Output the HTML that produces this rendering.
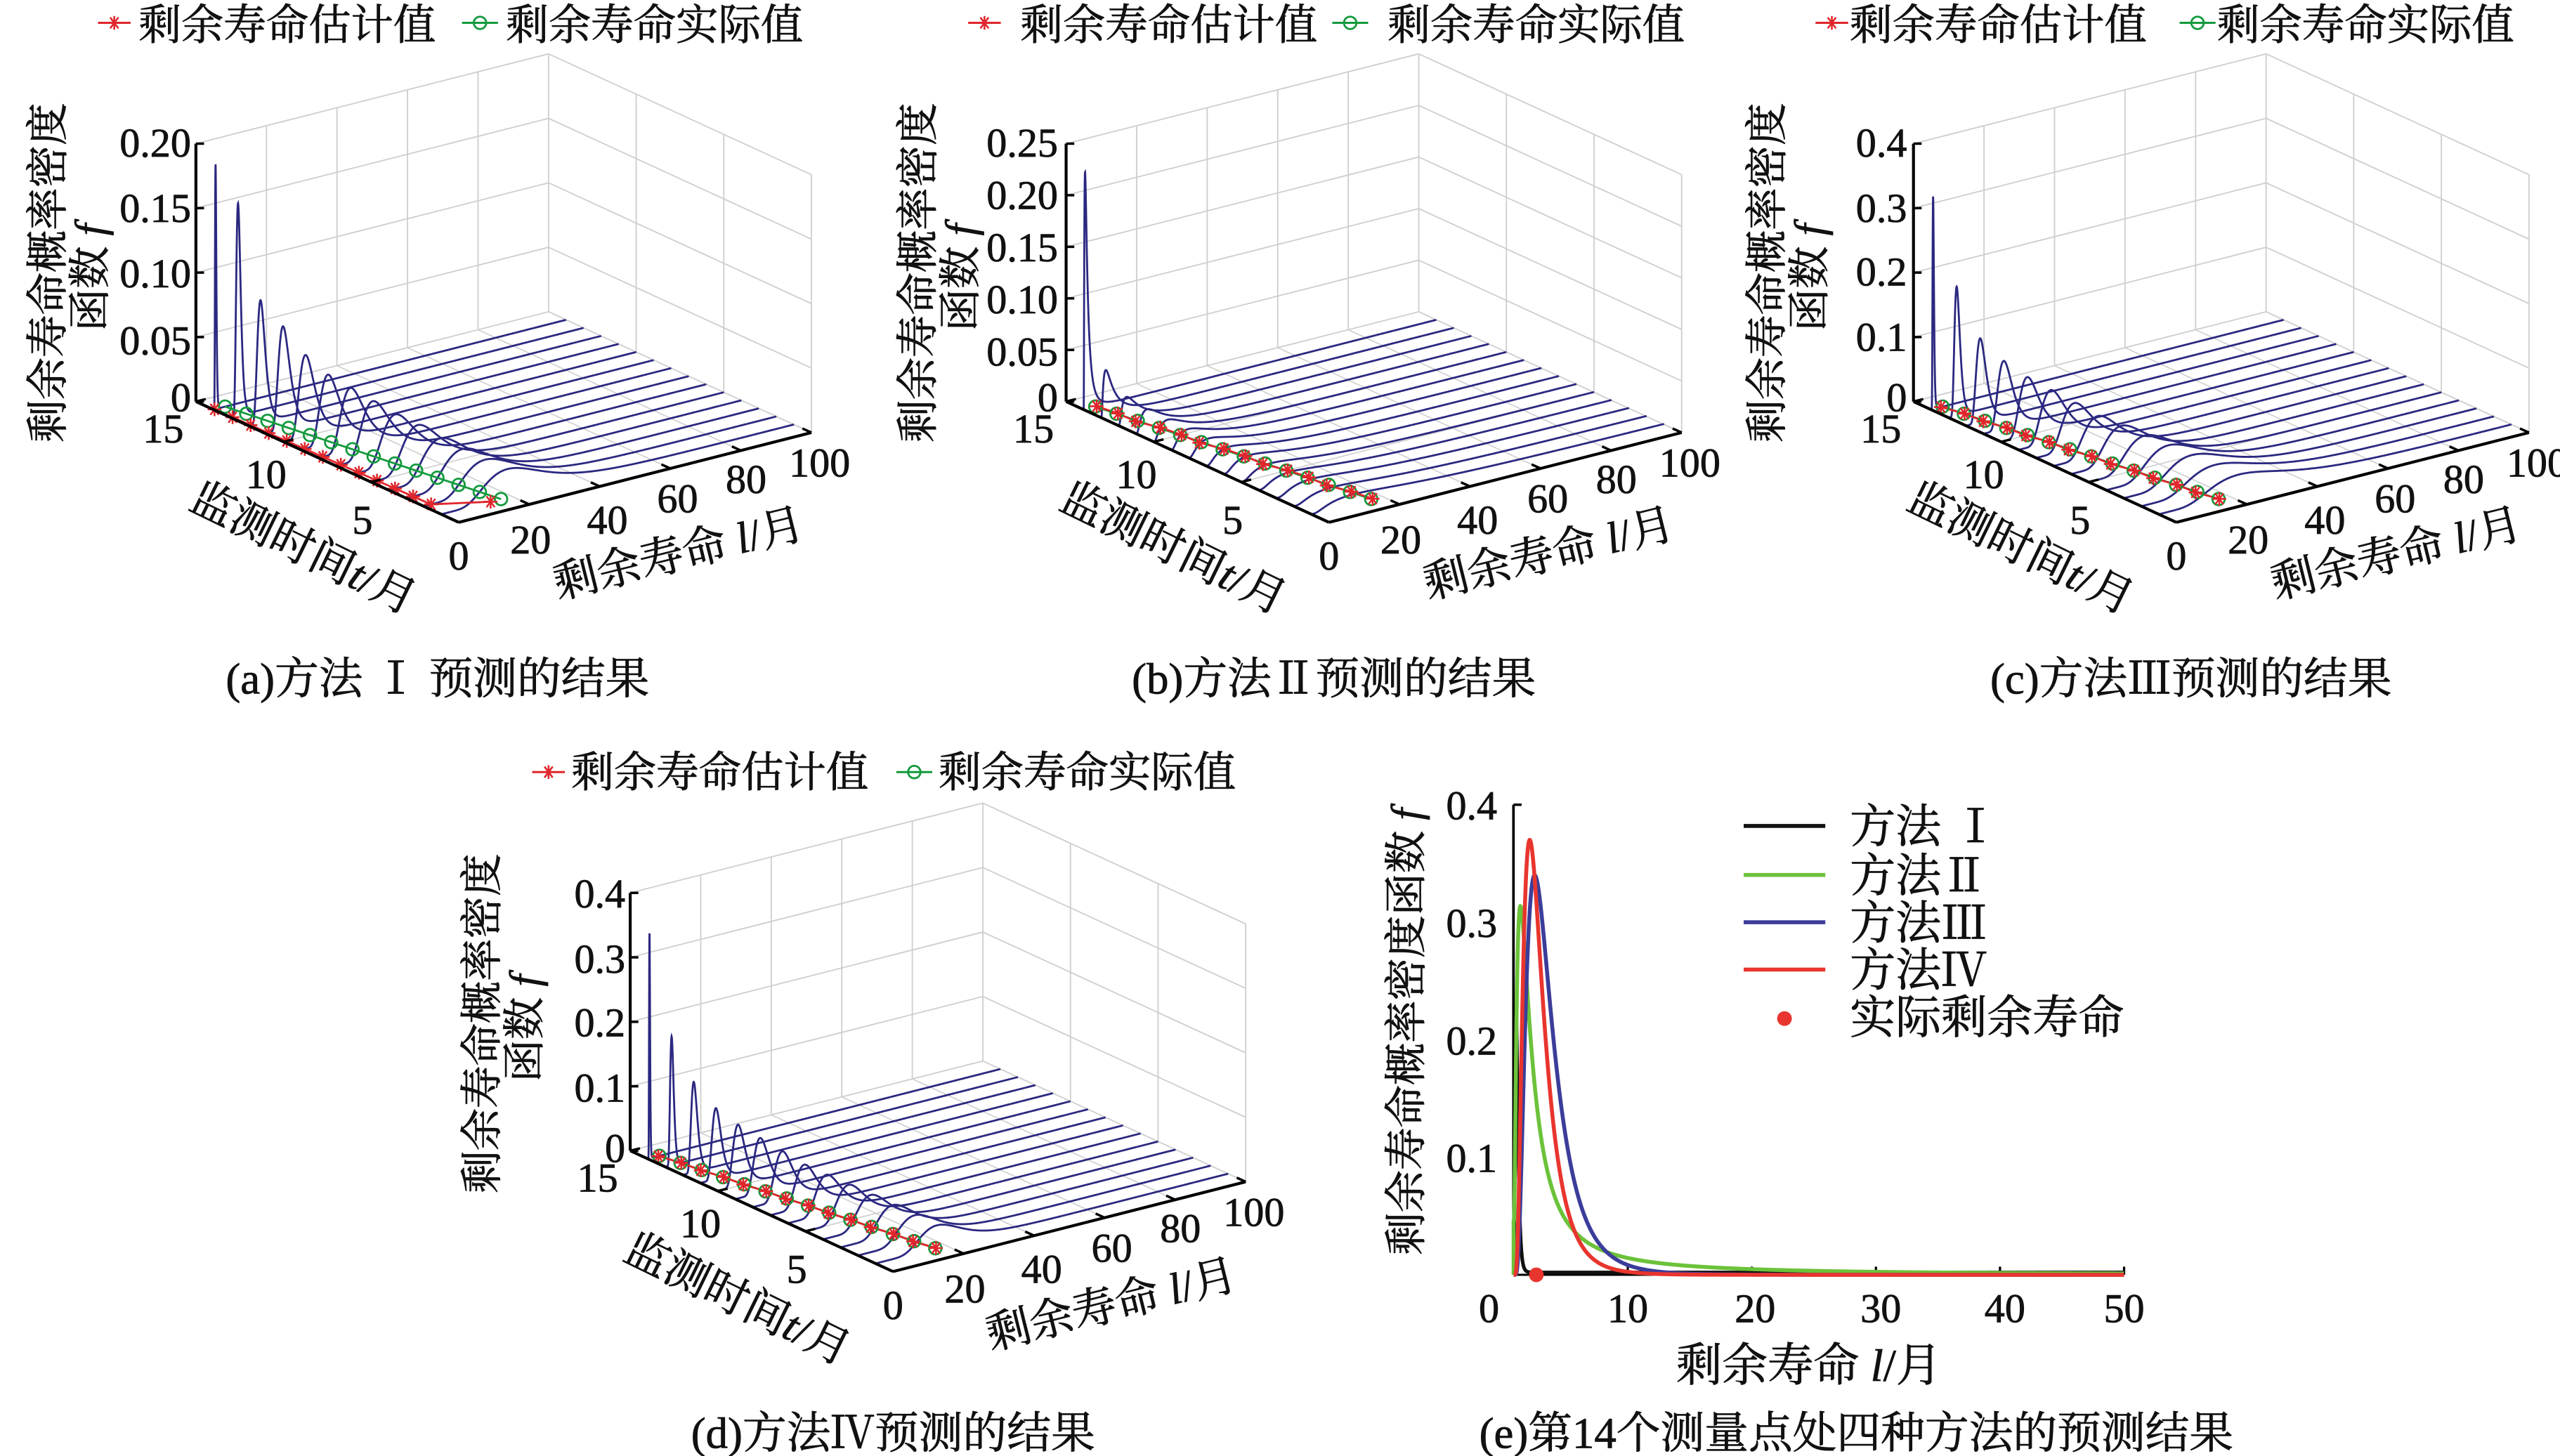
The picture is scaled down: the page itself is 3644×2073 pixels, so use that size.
<!DOCTYPE html>
<html><head><meta charset="utf-8">
<style>
html,body{margin:0;padding:0;background:#fff;}
svg{display:block;}
text{font-family:"Liberation Serif","Noto Serif CJK SC",serif;fill:#111;stroke:#111;stroke-width:0.35;}
.cj{font-family:"Liberation Serif","Noto Serif CJK SC",serif;}
</style></head>
<body>
<svg id="s" xmlns="http://www.w3.org/2000/svg" width="3644" height="2073" viewBox="0 0 1568 892">
<rect width="1568" height="892" fill="#fff"/>
<g id="g"></g>
<g font-size="25">
 <text x="117" y="96" text-anchor="end">0.20</text>
 <text x="117" y="136" text-anchor="end">0.15</text>
 <text x="117" y="176" text-anchor="end">0.10</text>
 <text x="117" y="217" text-anchor="end">0.05</text>
 <text x="117" y="252" text-anchor="end">0</text>
 <text x="648" y="96" text-anchor="end">0.25</text>
 <text x="648" y="128" text-anchor="end">0.20</text>
 <text x="648" y="160" text-anchor="end">0.15</text>
 <text x="648" y="192" text-anchor="end">0.10</text>
 <text x="648" y="224" text-anchor="end">0.05</text>
 <text x="648" y="252" text-anchor="end">0</text>
 <text x="1168" y="96" text-anchor="end">0.4</text>
 <text x="1168" y="136" text-anchor="end">0.3</text>
 <text x="1168" y="175" text-anchor="end">0.2</text>
 <text x="1168" y="215" text-anchor="end">0.1</text>
 <text x="1168" y="252" text-anchor="end">0</text>
 <text x="383" y="556" text-anchor="end">0.4</text>
 <text x="383" y="596" text-anchor="end">0.3</text>
 <text x="383" y="635" text-anchor="end">0.2</text>
 <text x="383" y="675" text-anchor="end">0.1</text>
 <text x="383" y="712" text-anchor="end">0</text>
</g>
<g id="tl" font-size="25" text-anchor="middle"></g>
<g font-size="26" class="cj">
 <text x="85" y="24">剩余寿命估计值</text><text x="310" y="24">剩余寿命实际值</text>
 <text x="625" y="24">剩余寿命估计值</text><text x="850" y="24">剩余寿命实际值</text>
 <text x="1133" y="24">剩余寿命估计值</text><text x="1358" y="24">剩余寿命实际值</text>
 <text x="350" y="482">剩余寿命估计值</text><text x="575" y="482">剩余寿命实际值</text>
</g>
<g font-size="26" class="cj" text-anchor="middle">
 <text transform="translate(38,167) rotate(-90)">剩余寿命概率密度</text>
 <text transform="translate(64,170) rotate(-90)">函数 <tspan font-style="italic">f</tspan></text>
 <text transform="translate(571,167) rotate(-90)">剩余寿命概率密度</text>
 <text transform="translate(597,170) rotate(-90)">函数 <tspan font-style="italic">f</tspan></text>
 <text transform="translate(1091,167) rotate(-90)">剩余寿命概率密度</text>
 <text transform="translate(1117,170) rotate(-90)">函数 <tspan font-style="italic">f</tspan></text>
 <text transform="translate(304,627) rotate(-90)">剩余寿命概率密度</text>
 <text transform="translate(330,630) rotate(-90)">函数 <tspan font-style="italic">f</tspan></text>
 <text transform="translate(870,632) rotate(-90)">剩余寿命概率密度函数 <tspan font-style="italic">f</tspan></text>
</g>
<g font-size="27" class="cj" text-anchor="middle">
 <text transform="translate(182,344) rotate(26)">监测时间<tspan font-style="italic">t</tspan>/月</text>
 <text transform="translate(418,348) rotate(-14)">剩余寿命 <tspan font-style="italic">l</tspan>/月</text>
 <text transform="translate(715,344) rotate(26)">监测时间<tspan font-style="italic">t</tspan>/月</text>
 <text transform="translate(951,348) rotate(-14)">剩余寿命 <tspan font-style="italic">l</tspan>/月</text>
 <text transform="translate(1234,344) rotate(26)">监测时间<tspan font-style="italic">t</tspan>/月</text>
 <text transform="translate(1470,348) rotate(-14)">剩余寿命 <tspan font-style="italic">l</tspan>/月</text>
 <text transform="translate(448,804) rotate(26)">监测时间<tspan font-style="italic">t</tspan>/月</text>
 <text transform="translate(683,808) rotate(-14)">剩余寿命 <tspan font-style="italic">l</tspan>/月</text>
</g>
<g font-size="27" class="cj" text-anchor="middle">
 <text x="268" y="425">(a)方法 Ⅰ 预测的结果</text>
 <text x="817" y="425">(b)方法Ⅱ预测的结果</text>
 <text x="1342" y="425">(c)方法Ⅲ预测的结果</text>
 <text x="547" y="887">(d)方法Ⅳ预测的结果</text>
 <text x="1137" y="887">(e)第14个测量点处四种方法的预测结果</text>
</g>
<g font-size="25">
 <text x="917" y="502" text-anchor="end">0.4</text>
 <text x="917" y="574" text-anchor="end">0.3</text>
 <text x="917" y="646" text-anchor="end">0.2</text>
 <text x="917" y="718" text-anchor="end">0.1</text>
 <g text-anchor="middle">
 <text x="912" y="810">0</text><text x="997" y="810">10</text><text x="1075" y="810">20</text>
 <text x="1152" y="810">30</text><text x="1228" y="810">40</text><text x="1301" y="810">50</text>
 </g>
</g>
<g font-size="28" class="cj">
 <text x="1133" y="516">方法 Ⅰ</text>
 <text x="1133" y="546">方法Ⅱ</text>
 <text x="1133" y="575">方法Ⅲ</text>
 <text x="1133" y="604">方法Ⅳ</text>
 <text x="1133" y="633">实际剩余寿命</text>
 <text x="1108" y="846" text-anchor="middle">剩余寿命 <tspan font-style="italic">l</tspan>/月</text>
</g>
<g id="ge"></g>
</svg>
<script>
(function(){
var NS="http://www.w3.org/2000/svg";
var G=document.getElementById("g"), TL=document.getElementById("tl"), GE=document.getElementById("ge");
function el(par,tag,a){var e=document.createElementNS(NS,tag);for(var k in a)e.setAttribute(k,a[k]);par.appendChild(e);return e;}
function line(par,x1,y1,x2,y2,c,w){el(par,"line",{x1:x1,y1:y1,x2:x2,y2:y2,stroke:c,"stroke-width":w});}
function star(par,x,y,r,c){line(par,x-r,y,x+r,y,c,1.1);line(par,x-r*.6,y-r*.8,x+r*.6,y+r*.8,c,1.1);line(par,x-r*.6,y+r*.8,x+r*.6,y-r*.8,c,1.1);line(par,x,y-r,x,y+r,c,1.1);}
function circ(par,x,y,r,c){el(par,"circle",{cx:x,cy:y,r:r,fill:"none",stroke:c,"stroke-width":1.2});}
var RED="#e0262b",GRN="#139a3c",NAVY="#2b2880",GRID="#cfcfcf";
function logn(l,P,lp,s){if(l<=0)return 0;var a=Math.log(l/lp);return P*Math.exp(-a*a/(2*s*s));}
function panel(p){
 function P(t,l,z){return [p.ox+281+l/100*216-t/15*161, p.oy+320-l/100*55-t/15*74-z/p.zmax*158];}
 var i,a,b;
 p.zt.forEach(function(z){a=P(15,0,z);b=P(15,100,z);line(G,a[0],a[1],b[0],b[1],GRID,.8);a=P(0,100,z);line(G,b[0],b[1],a[0],a[1],GRID,.8);});
 [20,40,60,80,100].forEach(function(l){a=P(15,l,0);b=P(15,l,p.zmax);line(G,a[0],a[1],b[0],b[1],GRID,.8);});
 [0,5,10].forEach(function(t){a=P(t,100,0);b=P(t,100,p.zmax);line(G,a[0],a[1],b[0],b[1],GRID,.8);});
 [20,40,60,80].forEach(function(l){a=P(0,l,0);b=P(15,l,0);line(G,a[0],a[1],b[0],b[1],GRID,.7);});
 [5,10].forEach(function(t){a=P(t,0,0);b=P(t,100,0);line(G,a[0],a[1],b[0],b[1],GRID,.7);});
 for(var t=14;t>=1;t--){
  var k=14-t,h=p.h[k],lp=p.lp0+k*p.dlp,d="";
  var s=p.s+(p.ds||0)*k;
  for(i=0;i<=500;i++){var l=100*Math.pow(i/500,2);var z=logn(l,h,lp,s);var q=P(t,l,z);d+=(i?"L":"M")+q[0].toFixed(2)+" "+q[1].toFixed(2);}
  el(G,"path",{d:d,fill:"none",stroke:NAVY,"stroke-width":1.2});
 }
 var est="",act="";
 for(t=14;t>=1;t--){var la=p.act(t),le=p.est(t);var qa=P(t,la,0),qe=P(t,le,0);act+=(t==14?"M":"L")+qa[0]+" "+qa[1];est+=(t==14?"M":"L")+qe[0]+" "+qe[1];}
 el(G,"path",{d:act,fill:"none",stroke:GRN,"stroke-width":1.2});
 el(G,"path",{d:est,fill:"none",stroke:RED,"stroke-width":1.2});
 for(t=14;t>=1;t--){var qa2=P(t,p.act(t),0),qe2=P(t,p.est(t),0);circ(G,qa2[0],qa2[1],3.8,GRN);star(G,qe2[0],qe2[1],4.2,RED);}
 a=P(15,0,0);b=P(15,0,p.zmax);line(G,a[0],a[1],b[0],b[1],"#000",1.8);
 p.zt.forEach(function(z){var q=P(15,0,z);line(G,q[0],q[1],q[0]+5,q[1],"#000",1.5);});
 a=P(15,0,0);b=P(0,0,0);line(G,a[0],a[1],b[0],b[1],"#000",1.8);
 a=P(0,0,0);b=P(0,100,0);line(G,a[0],a[1],b[0],b[1],"#000",1.8);
 [0,5,10,15].forEach(function(t){var q=P(t,0,0);line(G,q[0],q[1],q[0]+6,q[1]-1.5,"#000",1.5);});
 [20,40,60,80,100].forEach(function(l){var q=P(0,l,0);line(G,q[0],q[1],q[0]-5.5,q[1]-2.5,"#000",1.5);});
 var tl=[["15",100,271],["10",163,299],["5",222,327],["0",281,349],["20",325,339],["40",372,327],["60",415,314],["80",457,302],["100",502,292]];
 tl.forEach(function(v){var e=el(TL,"text",{x:v[1]+p.ox,y:v[2]+p.oy});e.textContent=v[0];});
 var lx=p.ox+60,ly=p.oy+14;
 line(G,lx,ly,lx+20,ly,RED,1.3);star(G,lx+10,ly,4.2,RED);
 line(G,lx+223,ly,lx+245,ly,GRN,1.3);circ(G,lx+234,ly,3.8,GRN);
}
function actA(t){return 3.3+(14-t)*1.05;}
panel({ox:0,oy:0,zmax:0.2,zt:[0,0.05,0.1,0.15,0.2],
 h:[0.19,0.165,0.095,0.08,0.063,0.053,0.048,0.043,0.038,0.035,0.03,0.027,0.024,0.022],lp0:0.6,dlp:1.4,s:0.3,ds:0.01,
 act:actA,est:function(t){return t==1?14:0.3+(14-t)*0.15;}});
panel({ox:533,oy:0,zmax:0.25,zt:[0,0.05,0.1,0.15,0.2,0.25],
 h:[0.23,0.045,0.026,0.021,0.018,0.016,0.014,0.013,0.012,0.011,0.010,0.010,0.009,0.009],lp0:0.4,dlp:0.9,s:0.9,
 act:actA,est:function(t){return actA(t)+(t%3==0?-0.6:0.4);}});
panel({ox:1052,oy:0,zmax:0.4,zt:[0,0.1,0.2,0.3,0.4],
 h:[0.33,0.2,0.13,0.105,0.09,0.08,0.07,0.06,0.055,0.05,0.045,0.04,0.035,0.03],lp0:0.6,dlp:1.7,s:0.32,ds:0.01,
 act:actA,est:function(t){return actA(t)-0.5+(t%2)*0.7;}});
panel({ox:266,oy:459,zmax:0.4,zt:[0,0.1,0.2,0.3,0.4],
 h:[0.35,0.2,0.14,0.11,0.095,0.085,0.075,0.065,0.06,0.055,0.05,0.045,0.04,0.035],lp0:0.5,dlp:1.3,s:0.27,ds:0.005,
 act:actA,est:function(t){return actA(t)-0.3+(t%2)*0.5;}});
function X(l){return 921+l*7.6;} function Y(f){return 781-f*720;}
line(GE,927,493,927,781,"#000",1.6);line(GE,927,493,932,493,"#000",1.5);
line(GE,927,781,1301,781,"#000",1.3);
[10,20,30,40,50].forEach(function(l){line(GE,X(l),781,X(l),776,"#000",1.4);});
function curve(fn,c,w){var d="";for(var i=0;i<=600;i++){var l=0.8+49.2*Math.pow(i/600,2);var f=fn(l);d+=(i?"L":"M")+X(l).toFixed(2)+" "+Y(f).toFixed(2);}el(GE,"path",{d:d,fill:"none",stroke:c,"stroke-width":w});}
curve(function(l){return logn(l-0.75,0.22,0.25,0.45)+0.002;},"#111",2.2);
curve(function(l){var x=l-0.8;return x<=0?0:logn(x,0.27,0.55,0.9)+0.045/(1+Math.pow(x/5,1.6));},"#6cc23a",2.4);
curve(function(l){return logn(l-0.8,0.34,1.7,0.62);},"#3b3d9a",2.4);
curve(function(l){return logn(l-0.8,0.37,1.3,0.62);},"#e8352e",2.4);
el(GE,"circle",{cx:941,cy:781,r:4.5,fill:"#e8352e"});
line(GE,1068,506,1118,506,"#111",2.4);
line(GE,1068,536,1118,536,"#6cc23a",2.4);
line(GE,1068,565,1118,565,"#3b3d9a",2.4);
line(GE,1068,594,1118,594,"#e8352e",2.4);
el(GE,"circle",{cx:1093,cy:624,r:4.5,fill:"#e8352e"});
})();
</script>
</body></html>
